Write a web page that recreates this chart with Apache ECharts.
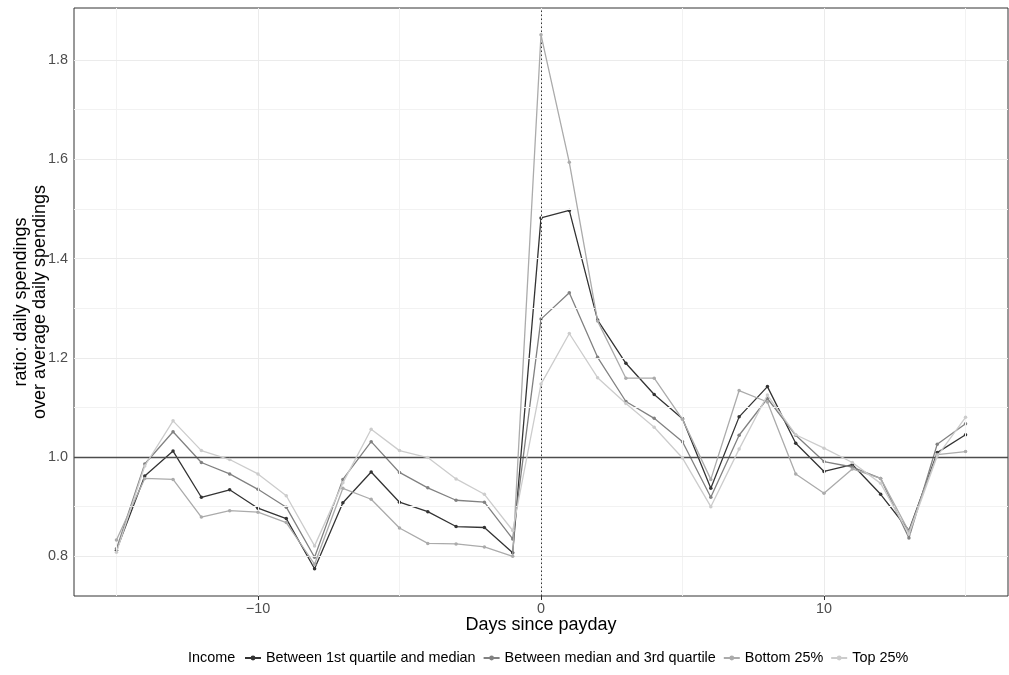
<!DOCTYPE html>
<html>
<head>
<meta charset="utf-8">
<script src="https://cdn.jsdelivr.net/npm/echarts@6/dist/echarts.min.js"></script>
<style>
  html, body { margin: 0; padding: 0; background: #fff; }
  #chart { width: 1009px; height: 675px; }
</style>
</head>
<body>
<div id="chart"></div>
<script>
// ---- data ----
const days = [-15, -14, -13, -12, -11, -10, -9, -8, -7, -6, -5, -4, -3, -2, -1, 0, 1, 2, 3, 4, 5, 6, 7, 8, 9, 10, 11, 12, 13, 14, 15];
const seriesNames = ['Between 1st quartile and median', 'Between median and 3rd quartile', 'Bottom 25%', 'Top 25%'];
const q1ToMedian = [0.812, 0.962, 1.012, 0.919, 0.934, 0.897, 0.876, 0.775, 0.908, 0.970, 0.909, 0.890, 0.860, 0.858, 0.807, 1.482, 1.497, 1.276, 1.189, 1.126, 1.077, 0.937, 1.081, 1.142, 1.028, 0.971, 0.985, 0.925, 0.852, 1.009, 1.045];
const medianToQ3 = [0.815, 0.986, 1.051, 0.989, 0.966, 0.935, 0.899, 0.798, 0.955, 1.031, 0.969, 0.938, 0.913, 0.909, 0.835, 1.278, 1.331, 1.201, 1.112, 1.078, 1.031, 0.919, 1.044, 1.118, 1.044, 0.991, 0.980, 0.957, 0.837, 1.026, 1.067];
const bottom25 = [0.833, 0.957, 0.955, 0.879, 0.892, 0.889, 0.868, 0.784, 0.937, 0.915, 0.857, 0.826, 0.825, 0.819, 0.800, 1.851, 1.594, 1.274, 1.159, 1.159, 1.076, 0.955, 1.134, 1.111, 0.966, 0.927, 0.976, 0.957, 0.850, 1.005, 1.011];
const top25 = [0.808, 0.982, 1.073, 1.013, 0.995, 0.966, 0.922, 0.821, 0.948, 1.056, 1.013, 0.999, 0.956, 0.925, 0.852, 1.147, 1.249, 1.160, 1.108, 1.060, 0.998, 0.900, 1.016, 1.125, 1.045, 1.018, 0.989, 0.947, 0.845, 1.002, 1.080];
const xTicks = [-10, 0, 10];
const xMinor = [-15, -5, 5, 15];
const yTicks = [0.8, 1.0, 1.2, 1.4, 1.6, 1.8];
const yMinor = [0.9, 1.1, 1.3, 1.5, 1.7];
const refY = 1.0;
const refX = 0;

const colors = ['#333333', '#818181', '#ABABAB', '#CCCCCC'];
const values = [q1ToMedian, medianToQ3, bottom25, top25];
const FONT = '"Liberation Sans", Arial, Helvetica, sans-serif';

const chart = echarts.init(document.getElementById('chart'), null, { renderer: 'canvas' });

const gridMarks = [];
xMinor.forEach(v => gridMarks.push({ xAxis: v, lineStyle: { color: '#F2F2F2', width: 1, type: 'solid' } }));
yMinor.forEach(v => gridMarks.push({ yAxis: v, lineStyle: { color: '#F2F2F2', width: 1, type: 'solid' } }));
xTicks.forEach(v => gridMarks.push({ xAxis: v, lineStyle: { color: '#EBEBEB', width: 1, type: 'solid' } }));
yTicks.forEach(v => gridMarks.push({ yAxis: v, lineStyle: { color: '#EBEBEB', width: 1, type: 'solid' } }));

const series = [{
  type: 'line',
  name: '__grid',
  data: [],
  z: 1,
  silent: true,
  markLine: {
    silent: true, symbol: 'none', animation: false,
    label: { show: false },
    data: gridMarks
  }
}, {
  type: 'line',
  name: '__ref',
  data: [],
  z: 2,
  silent: true,
  markLine: {
    silent: true, symbol: 'none', animation: false,
    label: { show: false },
    data: [
      { yAxis: refY, lineStyle: { color: '#4D4D4D', width: 1.3, type: 'solid' } },
      { xAxis: refX, lineStyle: { color: '#333333', width: 1, type: [1.5, 2.5] } }
    ]
  }
}];

seriesNames.forEach((name, i) => {
  series.push({
    type: 'line',
    name: name,
    data: days.map((d, j) => [d, values[i][j]]),
    z: 3 + i,
    symbol: 'circle',
    symbolSize: 3.5,
    showSymbol: true,
    lineStyle: { color: colors[i], width: 1.3 },
    itemStyle: { color: colors[i] },
    emphasis: { disabled: true },
    animation: false
  });
});

chart.setOption({
  animation: false,
  backgroundColor: '#ffffff',
  textStyle: { fontFamily: FONT },
  title: {
    text: 'Income',
    left: 188,
    top: 651,
    textStyle: { fontSize: 14.4, fontWeight: 'normal', color: '#000', fontFamily: FONT },
    padding: 0
  },
  legend: {
    data: seriesNames,
    left: 244,
    top: 651,
    padding: 0,
    itemWidth: 16,
    itemHeight: 6,
    itemGap: 7,
    textStyle: { fontSize: 14.4, color: '#000', fontFamily: FONT },
    selectedMode: false
  },
  grid: {
    left: 74, right: 1, top: 8, bottom: 79,
    outerBoundsMode: 'none',
    show: true, borderColor: '#333333', borderWidth: 1, backgroundColor: '#ffffff',
    containLabel: false
  },
  xAxis: {
    type: 'value',
    min: -16.5, max: 16.5,
    name: 'Days since payday',
    nameLocation: 'middle',
    nameGap: 20,
    nameMoveOverlap: false,
    nameTextStyle: { fontSize: 18, color: '#000', fontFamily: FONT, verticalAlign: 'top' },
    axisLine: { show: false },
    axisTick: { show: true, customValues: xTicks, length: 4, lineStyle: { color: '#333333' } },
    axisLabel: {
      customValues: xTicks, fontSize: 14.4, color: '#4D4D4D', margin: 6, fontFamily: FONT,
      formatter: v => (v < 0 ? '\u2212' + Math.abs(v) : String(v))
    },
    splitLine: { show: false }
  },
  yAxis: {
    type: 'value',
    min: 0.72, max: 1.905,
    name: 'ratio: daily spendings\nover average daily spendings',
    nameLocation: 'middle',
    nameGap: 24,
    nameMoveOverlap: false,
    nameRotate: 90,
    nameTextStyle: { fontSize: 18, color: '#000', fontFamily: FONT, lineHeight: 19 },
    axisLine: { show: false },
    axisTick: { show: true, customValues: yTicks, length: 4, lineStyle: { color: '#333333' } },
    axisLabel: {
      customValues: yTicks, fontSize: 14.4, color: '#4D4D4D', margin: 6, fontFamily: FONT,
      formatter: v => v.toFixed(1)
    },
    splitLine: { show: false }
  },
  series: series
});
</script>
</body>
</html>
